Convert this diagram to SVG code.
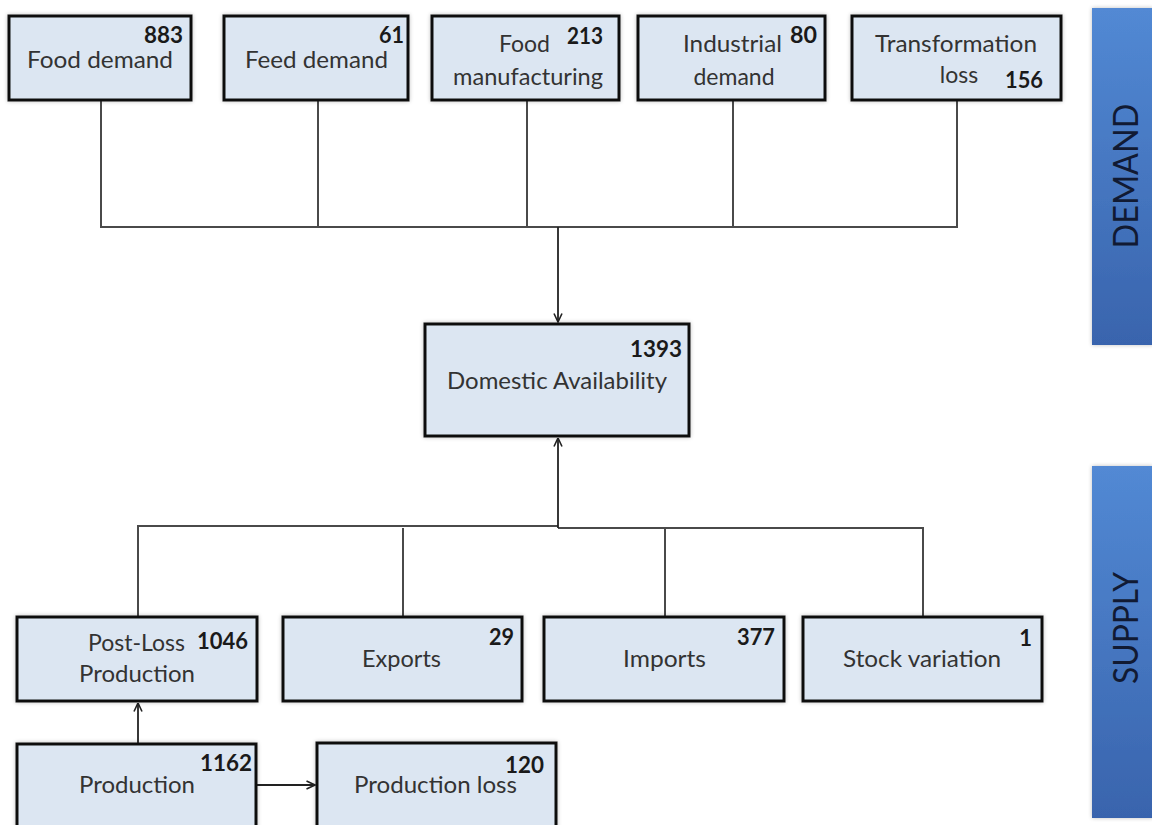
<svg xmlns="http://www.w3.org/2000/svg" width="1152" height="825" viewBox="0 0 1152 825">
<defs>
<linearGradient id="band" x1="0" y1="0" x2="0" y2="1">
<stop offset="0" stop-color="#5289d4"/>
<stop offset="1" stop-color="#3964ad"/>
</linearGradient>
<filter id="sh" x="-5%" y="-10%" width="110%" height="120%">
<feGaussianBlur in="SourceAlpha" stdDeviation="2"/>
<feComponentTransfer><feFuncA type="linear" slope="0.25"/></feComponentTransfer>
<feMerge><feMergeNode/><feMergeNode in="SourceGraphic"/></feMerge>
</filter>
<marker id="arr" viewBox="0 0 10 10" refX="9.5" refY="5" markerWidth="10" markerHeight="10" markerUnits="userSpaceOnUse" orient="auto">
<path d="M1,1 L9.5,5 L1,9" fill="none" stroke="#222" stroke-width="1.6"/>
</marker>
</defs>
<style>
.box{fill:#dce6f2;stroke:#111;stroke-width:3;filter:url(#sh)}
.lbl{font-family:Lato,"Open Sans","Liberation Sans",sans-serif;font-size:23px;fill:#333}
.num{font-family:Lato,"Open Sans","Liberation Sans",sans-serif;font-size:22px;font-weight:bold;fill:#1a1a1a}
.conn{fill:none;stroke:#4a4a4a;stroke-width:2}
.arrow{fill:none;stroke:#222;stroke-width:1.8}
.band{fill:url(#band)}
.side{font-family:Lato,"Open Sans","Liberation Sans",sans-serif;font-size:34px;fill:#111a33}
</style>
<rect width="1152" height="825" fill="#ffffff"/>

<g id="connectors">
<path class="conn" d="M101,100 V227 H957 V100"/>
<path class="conn" d="M318,100 V227"/>
<path class="conn" d="M527,100 V227"/>
<path class="conn" d="M733,100 V227"/>
<path class="arrow" d="M558,227 V322" marker-end="url(#arr)"/>
<path class="conn" d="M138,617 V526 H558"/>
<path class="conn" d="M558,528 H923 V617"/>
<path class="conn" d="M403,617 V528"/>
<path class="conn" d="M665,617 V528"/>
<path class="arrow" d="M558,528 V438" marker-end="url(#arr)"/>
<path class="arrow" d="M138,744 V703" marker-end="url(#arr)"/>
<path class="arrow" d="M256,785 H315" marker-end="url(#arr)"/>
</g>

<g id="food-demand">
<rect class="box" x="9" y="16" width="182" height="84"/>
<text class="num" x="183" y="43" text-anchor="end" textLength="39" lengthAdjust="spacingAndGlyphs">883</text>
<text class="lbl" x="27" y="68" textLength="146" lengthAdjust="spacingAndGlyphs">Food demand</text>
</g>
<g id="feed-demand">
<rect class="box" x="224" y="16" width="184" height="84"/>
<text class="num" x="404" y="43" text-anchor="end" textLength="25" lengthAdjust="spacingAndGlyphs">61</text>
<text class="lbl" x="245" y="68" textLength="143" lengthAdjust="spacingAndGlyphs">Feed demand</text>
</g>
<g id="food-manufacturing">
<rect class="box" x="432" y="16" width="187" height="84"/>
<text class="lbl" x="499" y="52" textLength="51" lengthAdjust="spacingAndGlyphs">Food</text>
<text class="num" x="603" y="44" text-anchor="end" textLength="36" lengthAdjust="spacingAndGlyphs">213</text>
<text class="lbl" x="453" y="85" textLength="150" lengthAdjust="spacingAndGlyphs">manufacturing</text>
</g>
<g id="industrial-demand">
<rect class="box" x="638" y="16" width="187" height="84"/>
<text class="lbl" x="683" y="52" textLength="99" lengthAdjust="spacingAndGlyphs">Industrial</text>
<text class="num" x="817" y="43" text-anchor="end" textLength="27" lengthAdjust="spacingAndGlyphs">80</text>
<text class="lbl" x="734" y="85" text-anchor="middle">demand</text>
</g>
<g id="transformation-loss">
<rect class="box" x="852" y="16" width="209" height="84"/>
<text class="lbl" x="875" y="52" textLength="162" lengthAdjust="spacingAndGlyphs">Transformation</text>
<text class="lbl" x="959" y="83" text-anchor="middle">loss</text>
<text class="num" x="1043" y="88" text-anchor="end" textLength="38" lengthAdjust="spacingAndGlyphs">156</text>
</g>

<g id="domestic-availability">
<rect class="box" x="425" y="324" width="264" height="112"/>
<text class="num" x="682" y="357" text-anchor="end" textLength="52" lengthAdjust="spacingAndGlyphs">1393</text>
<text class="lbl" x="447" y="389" textLength="220" lengthAdjust="spacingAndGlyphs">Domestic Availability</text>
</g>

<g id="post-loss-production">
<rect class="box" x="17" y="617" width="240" height="84"/>
<text class="lbl" x="88" y="651" textLength="97" lengthAdjust="spacingAndGlyphs">Post-Loss</text>
<text class="num" x="248" y="649" text-anchor="end" textLength="51" lengthAdjust="spacingAndGlyphs">1046</text>
<text class="lbl" x="79" y="682" textLength="116" lengthAdjust="spacingAndGlyphs">Production</text>
</g>
<g id="exports">
<rect class="box" x="283" y="617" width="239" height="84"/>
<text class="num" x="514" y="645" text-anchor="end" textLength="25" lengthAdjust="spacingAndGlyphs">29</text>
<text class="lbl" x="362" y="667" textLength="79" lengthAdjust="spacingAndGlyphs">Exports</text>
</g>
<g id="imports">
<rect class="box" x="544" y="617" width="240" height="84"/>
<text class="num" x="775" y="645" text-anchor="end" textLength="38" lengthAdjust="spacingAndGlyphs">377</text>
<text class="lbl" x="623" y="667" textLength="83" lengthAdjust="spacingAndGlyphs">Imports</text>
</g>
<g id="stock-variation">
<rect class="box" x="803" y="617" width="239" height="84"/>
<text class="num" x="1032" y="646" text-anchor="end">1</text>
<text class="lbl" x="843" y="667" textLength="158" lengthAdjust="spacingAndGlyphs">Stock variation</text>
</g>
<g id="production">
<rect class="box" x="17" y="744" width="239" height="100"/>
<text class="num" x="252" y="771" text-anchor="end" textLength="52" lengthAdjust="spacingAndGlyphs">1162</text>
<text class="lbl" x="79" y="793" textLength="116" lengthAdjust="spacingAndGlyphs">Production</text>
</g>
<g id="production-loss">
<rect class="box" x="317" y="743" width="239" height="100"/>
<text class="num" x="544" y="773" text-anchor="end" textLength="39" lengthAdjust="spacingAndGlyphs">120</text>
<text class="lbl" x="354" y="793" textLength="163" lengthAdjust="spacingAndGlyphs">Production loss</text>
</g>

<g id="demand-band">
<rect class="band" x="1092" y="8" width="62" height="337" filter="url(#sh)"/>
<text class="side" transform="translate(1138,176) rotate(-90)" text-anchor="middle" textLength="145" lengthAdjust="spacingAndGlyphs">DEMAND</text>
</g>
<g id="supply-band">
<rect class="band" x="1092" y="466" width="62" height="352" filter="url(#sh)"/>
<text class="side" transform="translate(1138,628) rotate(-90)" text-anchor="middle" textLength="112" lengthAdjust="spacingAndGlyphs">SUPPLY</text>
</g>
</svg>
